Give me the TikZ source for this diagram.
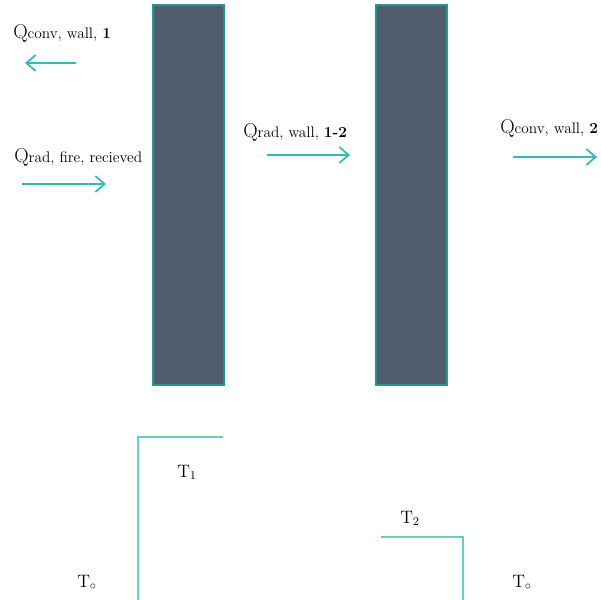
\documentclass[tikz,border=0pt]{standalone}
\usepackage{tikz}
\usetikzlibrary{arrows.meta}
\definecolor{flowteal}{RGB}{47,188,180}
\definecolor{wallfill}{RGB}{80,93,109}
\definecolor{wallrim}{RGB}{30,154,144}
\definecolor{templine}{RGB}{95,207,200}
\tikzset{>={Straight Barb[length=7pt,width=12pt]}}
\tikzset{
  wall/.style={fill=wallfill,draw=wallrim,line width=1.2pt},
  flow/.style={->,flowteal,line width=1.3pt},
  qlabel/.style={anchor=base west,inner sep=0pt,font=\fontsize{11.5}{13}\selectfont},
  tlabel/.style={anchor=base west,inner sep=0pt,font=\fontsize{13.5}{15}\selectfont},
  tprofile/.style={templine,line width=0.9pt}
}
\newcommand{\Qbig}{{\fontsize{15}{17}\selectfont Q}}
\begin{document}
\begin{tikzpicture}[x={(0.75pt,0)},y={(0,-0.75pt)}]
        \useasboundingbox (0,0) rectangle (601,600);

          % the two walls
          \draw[wall] (153,5) rectangle (224,385);
          \draw[wall] (376,5) rectangle (447,385);

          % heat flows
          \coordinate (convA) at (76,63);
          \coordinate (convB) at (25,63);
          \coordinate (fireA) at (22,184);
          \coordinate (fireB) at (106,184);
          \coordinate (gapA) at (267,155);
          \coordinate (gapB) at (350,155);
          \coordinate (outA) at (513,157);
          \coordinate (outB) at (597,157);
          \draw[flow] (convA) -- (convB);
          \draw[flow] (fireA) -- (fireB);
          \draw[flow] (gapA) -- (gapB);
          \draw[flow] (outA) -- (outB);

        % labels of the flows
        \node[qlabel] (qconv1) at (13,38) {\Qbig conv, wall, \textbf{1}};
        \node[qlabel] (qfire) at (14,162) {\Qbig rad, fire, recieved};
        \node[qlabel] (qgap) at (243,137) {\Qbig rad, wall, \textbf{1-2}};
        \node[qlabel] (qconv2) at (500,133) {\Qbig conv, wall, \textbf{2}};

          % temperature profile
          \draw[tprofile] (138,600) -- (138,437) -- (223,437);
          \draw[tprofile] (381,537) -- (463,537) -- (463,600);

        \node[tlabel] (tone) at (177,477) {T$_1$};
        \node[tlabel] (ttwo) at (400,523) {T$_2$};
        \node[tlabel] (toleft) at (77,587) {T$_\circ$};
        \node[tlabel] (toright) at (512,587) {T$_\circ$};

        \end{tikzpicture}
\end{document}
